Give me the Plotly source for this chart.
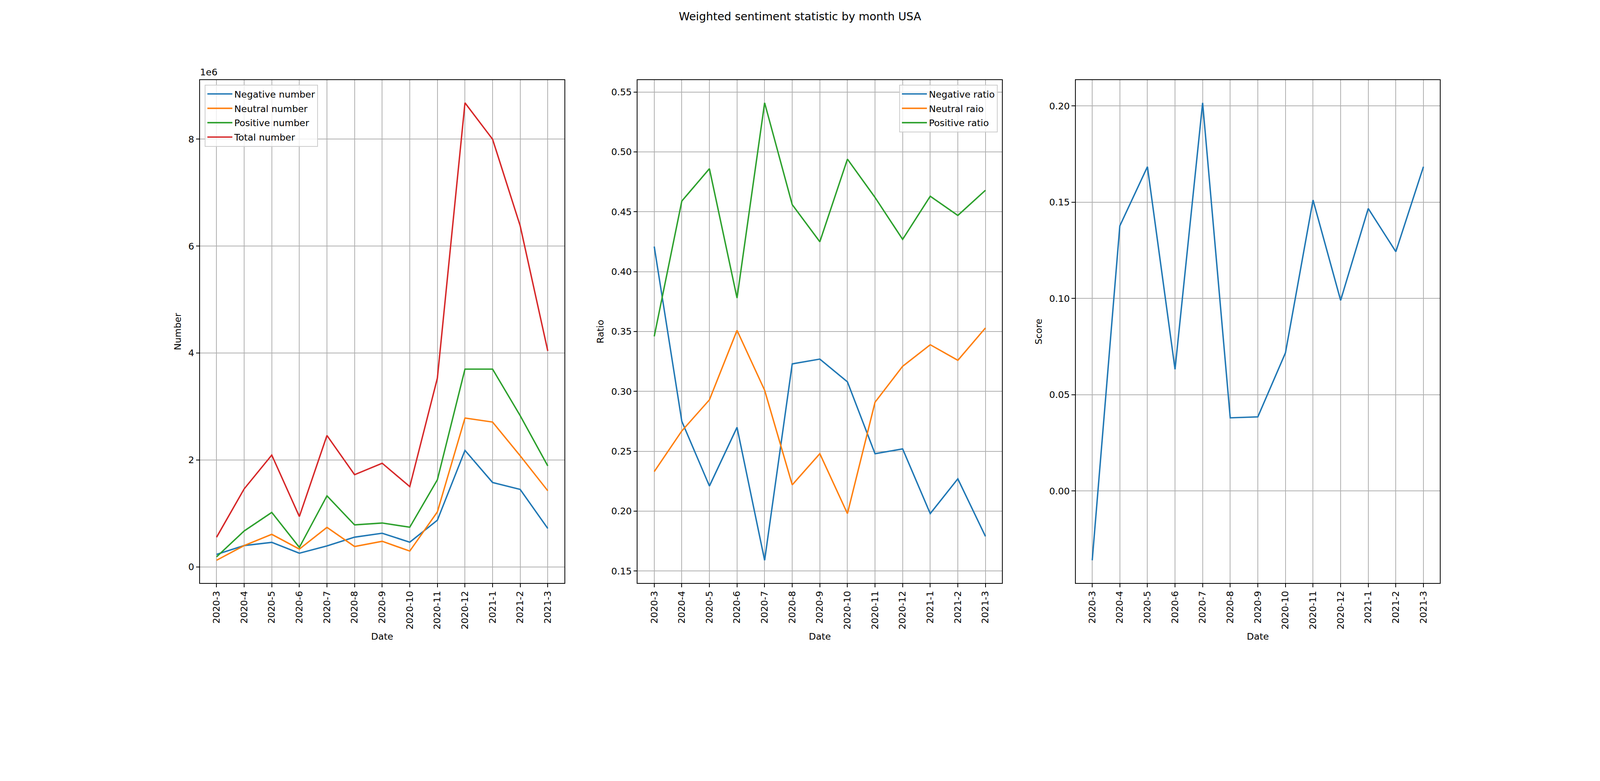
import plotly.graph_objects as go

# monthly data
months = ["2020-3", "2020-4", "2020-5", "2020-6", "2020-7", "2020-8", "2020-9",
          "2020-10", "2020-11", "2020-12", "2021-1", "2021-2", "2021-3"]

neg_number = [0.235e6, 0.40e6, 0.46e6, 0.257e6, 0.393e6, 0.557e6, 0.631e6,
              0.463e6, 0.874e6, 2.18e6, 1.58e6, 1.45e6, 0.72e6]
neu_number = [0.125e6, 0.40e6, 0.61e6, 0.334e6, 0.74e6, 0.382e6, 0.48e6,
              0.297e6, 1.03e6, 2.785e6, 2.71e6, 2.08e6, 1.425e6]
pos_number = [0.189e6, 0.673e6, 1.02e6, 0.366e6, 1.33e6, 0.787e6, 0.822e6,
              0.743e6, 1.63e6, 3.70e6, 3.70e6, 2.83e6, 1.89e6]
total_number = [0.556e6, 1.46e6, 2.093e6, 0.943e6, 2.459e6, 1.726e6, 1.94e6,
                1.503e6, 3.53e6, 8.68e6, 8.0e6, 6.38e6, 4.04e6]

neg_ratio = [0.421, 0.275, 0.221, 0.270, 0.159, 0.323, 0.327,
             0.308, 0.248, 0.252, 0.198, 0.227, 0.179]
neu_ratio = [0.233, 0.267, 0.293, 0.351, 0.301, 0.222, 0.248,
             0.198, 0.291, 0.321, 0.339, 0.326, 0.353]
pos_ratio = [0.346, 0.459, 0.486, 0.378, 0.541, 0.456, 0.425,
             0.494, 0.462, 0.427, 0.463, 0.447, 0.468]

score = [-0.036, 0.1377, 0.1684, 0.0632, 0.2016, 0.038, 0.0385,
         0.0717, 0.1511, 0.099, 0.1467, 0.1243, 0.1684]

number_ticks = [0, 2e6, 4e6, 6e6, 8e6]
number_ticktext = ["0", "2", "4", "6", "8"]
ratio_ticks = [0.15, 0.20, 0.25, 0.30, 0.35, 0.40, 0.45, 0.50, 0.55]
score_ticks = [0.00, 0.05, 0.10, 0.15, 0.20]

blue, orange, green, red = "#1f77b4", "#ff7f0e", "#2ca02c", "#d62728"
FONT = "DejaVu Sans"

# the page is shown 4096 css px wide, scaled up to the 4800 px picture
S = 4096 / 4800
MARGIN = 8  # default body margin
W, H = 4080, 1690


def fx(x_ref):
    return (x_ref * S - MARGIN) / W


def fy(y_ref):  # y_ref measured from top of the 4800x2000 picture
    return 1 - (y_ref * S - MARGIN) / H


def sz(v):
    return round(v * S, 1)


def pad(*series):
    lo = min(min(s) for s in series)
    hi = max(max(s) for s in series)
    m = (hi - lo) * 0.05
    return [lo - m, hi + m]


fig = go.Figure()

for name, ys, col in [("Negative number", neg_number, blue),
                      ("Neutral number", neu_number, orange),
                      ("Positive number", pos_number, green),
                      ("Total number", total_number, red)]:
    fig.add_trace(go.Scatter(x=months, y=ys, name=name, mode="lines",
                             line=dict(color=col, width=sz(4.2)),
                             legendgroup=name,
                             xaxis="x", yaxis="y", legend="legend"))

for name, ys, col in [("Negative ratio", neg_ratio, blue),
                      ("Neutral raio", neu_ratio, orange),
                      ("Positive ratio", pos_ratio, green)]:
    fig.add_trace(go.Scatter(x=months, y=ys, name=name, mode="lines",
                             line=dict(color=col, width=sz(4.2)),
                             legendgroup=name,
                             xaxis="x2", yaxis="y2", legend="legend2"))

fig.add_trace(go.Scatter(x=months, y=score, name="Score", mode="lines",
                         line=dict(color=blue, width=sz(4.2)), showlegend=False,
                         xaxis="x3", yaxis="y3"))

tick_font = dict(family=FONT, size=sz(27.8), color="black")
label_font = dict(family=FONT, size=sz(27.8), color="black")

ax_style = dict(showline=True, mirror=True, linecolor="black", linewidth=sz(2.2),
                ticks="outside", ticklen=sz(9.7), tickwidth=sz(2.2), tickcolor="black",
                showgrid=True, gridcolor="#b0b0b0", gridwidth=sz(2.2),
                zeroline=False, automargin=False, tickfont=tick_font)

doms = [[fx(600), fx(1693)], [fx(1913), fx(3006)], [fx(3227), fx(4320)]]
ydom = [fy(1750), fy(240)]

for i, (xa, ya) in enumerate([("xaxis", "yaxis"), ("xaxis2", "yaxis2"),
                              ("xaxis3", "yaxis3")]):
    sfx = "" if i == 0 else str(i + 1)
    fig.layout[xa] = dict(ax_style, domain=doms[i], anchor="y" + sfx,
                          type="category", range=[-0.6, 12.6], tickangle=-90,
                          title=dict(text="Date", standoff=sz(12), font=label_font))
    fig.layout[ya] = dict(ax_style, domain=ydom, anchor="x" + sfx)

fig.update_layout(
    yaxis=dict(range=pad(neg_number, neu_number, pos_number, total_number),
               tickvals=number_ticks, ticktext=number_ticktext,
               title=dict(text="Number", standoff=sz(14), font=label_font)),
    yaxis2=dict(range=pad(neg_ratio, neu_ratio, pos_ratio),
                tickvals=ratio_ticks, tickformat=".2f",
                title=dict(text="Ratio", standoff=sz(14), font=label_font)),
    yaxis3=dict(range=pad(score), tickvals=score_ticks, tickformat=".2f",
                title=dict(text="Score", standoff=sz(14), font=label_font)),
)

legend_style = dict(bgcolor="rgba(255,255,255,0.8)", bordercolor="#cccccc",
                    borderwidth=sz(2.2), font=tick_font, tracegroupgap=3,
                    itemwidth=64)

fig.update_layout(
    width=W, height=H,
    template="none",
    paper_bgcolor="white", plot_bgcolor="white",
    margin=dict(l=0, r=0, t=0, b=0),
    font=dict(family=FONT, size=sz(27.8), color="black"),
    title=dict(text="Weighted sentiment statistic by month USA",
               x=fx(2400), xanchor="center", y=fy(38), yanchor="top",
               font=dict(family=FONT, size=sz(33.3), color="black")),
    legend=dict(legend_style, x=fx(614), y=fy(254),
                xanchor="left", yanchor="top"),
    legend2=dict(legend_style, x=fx(2993), y=fy(254),
                 xanchor="right", yanchor="top"),
    annotations=[dict(text="1e6", xref="paper", yref="paper",
                      x=fx(598), y=fy(236), xanchor="left",
                      yanchor="bottom", showarrow=False,
                      font=dict(family=FONT, size=sz(27.8), color="black"))],
)

fig.write_html("out.html")
